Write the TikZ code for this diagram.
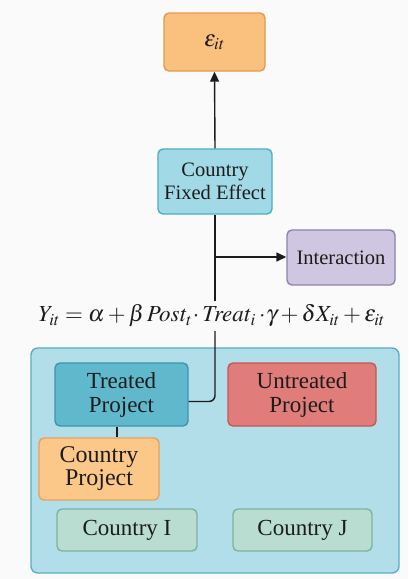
\documentclass[tikz,border=0pt]{standalone}
\usepackage{mathptmx}
\usepackage{fontspec}
\setmainfont{Liberation Serif}
\usetikzlibrary{arrows.meta}
\definecolor{epsfill}{HTML}{F9C07E}
\definecolor{epsdraw}{HTML}{E39A4E}
\definecolor{fefill}{HTML}{A2D9E6}
\definecolor{fedraw}{HTML}{4DAFC2}
\definecolor{infill}{HTML}{CFC7E1}
\definecolor{indraw}{HTML}{8D82AC}
\definecolor{contfill}{HTML}{B2DEEA}
\definecolor{contdraw}{HTML}{5AAEC4}
\definecolor{trfill}{HTML}{5FB8CC}
\definecolor{trdraw}{HTML}{3D95A9}
\definecolor{unfill}{HTML}{E07C79}
\definecolor{undraw}{HTML}{C55753}
\definecolor{cpfill}{HTML}{FBC88A}
\definecolor{cpdraw}{HTML}{E6A25A}
\definecolor{ctfill}{HTML}{B9DDD1}
\definecolor{ctdraw}{HTML}{7DB2A2}
\definecolor{txt}{HTML}{1C1C1C}
\definecolor{bg}{HTML}{FAFAFA}
\tikzset{
  box/.style={rounded corners=5pt, line width=1.4pt, align=center, text=txt,
    inner sep=0pt, font=\fontsize{20.5}{23}\selectfont},
  lowbox/.style={box, font=\fontsize{23}{24}\selectfont},
  conn/.style={line width=1.4pt, draw=txt},
  arr/.style={conn, -{Triangle[length=10pt,width=9pt]}}
}
\begin{document}
\begin{tikzpicture}[x=1pt,y=-1pt]
\fill[bg] (0,0) rectangle (408,579);
\useasboundingbox (0,0) rectangle (408,579);
\node[box, fill=epsfill, draw=epsdraw, minimum width=101pt, minimum height=58pt, font=\fontsize{23}{26}\selectfont] (eps) at (214.5,42) {$\varepsilon_{it}$};
\node[box, fill=fefill, draw=fedraw, minimum width=114pt, minimum height=65pt] (fe) at (215,181.5) {Country\\Fixed Effect};
\node[box, fill=infill, draw=indraw, minimum width=108pt, minimum height=55pt] (int) at (341,257.5) {Interaction};
\node[text=txt, font=\fontsize{23}{26}\selectfont, inner sep=0pt, minimum height=30pt] (eq) at (212,316)
  {$Y_{it} = \alpha + \beta\, \mathit{Post}_t\!\cdot \mathit{Treat}_i \cdot\!\gamma + \delta X_{it} + \varepsilon_{it}$};
\draw[rounded corners=7pt, line width=1.4pt, draw=contdraw, fill=contfill] (31,348) rectangle (399,573);
\node[lowbox, fill=trfill, draw=trdraw, minimum width=133pt, minimum height=63pt] (tr) at (121.5,394.5) {Treated\\Project};
\node[lowbox, fill=unfill, draw=undraw, minimum width=148pt, minimum height=63pt] (un) at (302,394.5) {Untreated\\Project};
\node[lowbox, fill=cpfill, draw=cpdraw, minimum width=120pt, minimum height=62pt, font=\fontsize{24}{23}\selectfont] (cp) at (99,469) {Country\\Project};
\node[lowbox, fill=ctfill, draw=ctdraw, minimum width=140pt, minimum height=42pt] (ci) at (127,530) {Country I};
\node[lowbox, fill=ctfill, draw=ctdraw, minimum width=139pt, minimum height=42pt] (cj) at (302.5,530) {Country J};
\coordinate (br) at (215,257);
\draw[arr] (fe.north) -- (eps.south);
\draw[conn] (fe.south) -- (fe.south |- eq.north);
\draw[arr] (br) -- (br -| int.west);
\draw[conn, rounded corners=6pt] (fe.south |- eq.south) |- ([yshift=-7pt]tr.east);
\draw[conn] (tr.south -| 117,0) -- (cp.north -| 117,0);
\end{tikzpicture}
\end{document}
